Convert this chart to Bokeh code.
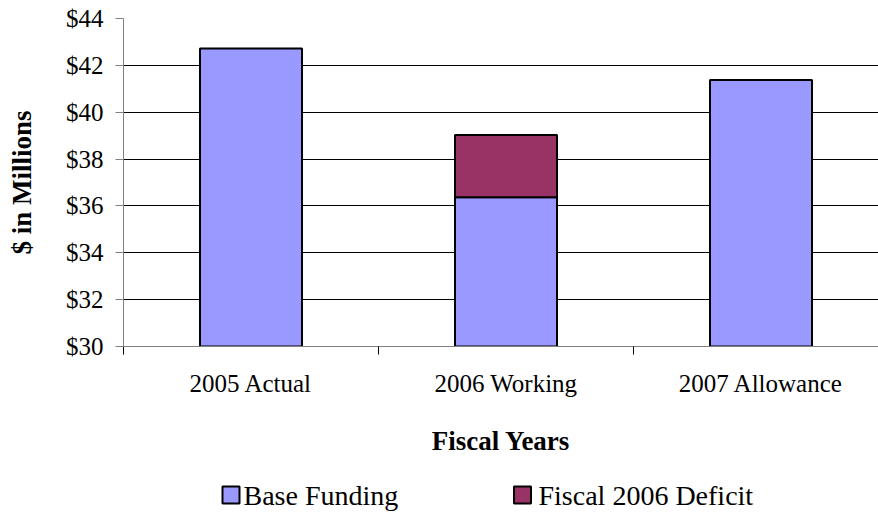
from bokeh.plotting import figure
from bokeh.layouts import column
from bokeh.models import FixedTicker, Range1d, NumeralTickFormatter
from bokeh.core.properties import value
from bokeh.embed import file_html
from bokeh.resources import INLINE

categories = ["2005 Actual", "2006 Working", "2007 Allowance"]
base_funding = [42.72, 36.37, 41.38]
deficit = [0.0, 2.66, 0.0]
y_ticks = [30, 32, 34, 36, 38, 40, 42, 44]
series_names = ["Base Funding", "Fiscal 2006 Deficit"]

FONT = "Liberation Serif"
BLUE = "#9999FF"
PLUM = "#993366"

centers = [i + 0.5 for i in range(len(categories))]
p = figure(width=878, height=466, output_backend="svg", toolbar_location=None,
           x_range=Range1d(0, 755 / 255), y_range=Range1d(30, 44),
           min_border_left=123, min_border_right=0, min_border_top=18, min_border_bottom=120)
p.outline_line_color = None
p.background_fill_color = "white"
p.border_fill_color = "white"

base_bottom = [30] * len(categories)
r_base = p.vbar(x=centers, top=base_funding, bottom=base_bottom, width=0.4,
                fill_color=BLUE, line_color="black", line_width=2)
def_x = [c for c, d in zip(centers, deficit) if d > 0]
def_bottom = [b for b, d in zip(base_funding, deficit) if d > 0]
def_top = [b + d for b, d in zip(base_funding, deficit) if d > 0]
r_def = p.vbar(x=def_x, top=def_top, bottom=def_bottom, width=0.4,
               fill_color=PLUM, line_color="black", line_width=2)

# x axis
xa = p.xaxis[0]
xa.ticker = FixedTicker(ticks=centers, minor_ticks=list(range(len(categories) + 1)))
xa.major_label_overrides = {c: n for c, n in zip(centers, categories)}
xa.major_tick_out = 0
xa.major_tick_in = 0
xa.minor_tick_out = 8
xa.minor_tick_in = 0
xa.minor_tick_line_color = "black"
xa.axis_line_color = "#808080"
xa.major_label_text_font = FONT
xa.major_label_text_font_size = "25px"
xa.major_label_text_color = "black"
xa.major_label_standoff = 15
xa.axis_label = "Fiscal Years"
xa.axis_label_text_font = FONT
xa.axis_label_text_font_style = "bold"
xa.axis_label_text_font_size = "27px"
xa.axis_label_text_color = "black"
xa.axis_label_standoff = 26

# y axis
ya = p.yaxis[0]
ya.ticker = FixedTicker(ticks=y_ticks, minor_ticks=[])
ya.formatter = NumeralTickFormatter(format="$0")
ya.major_tick_out = 8
ya.major_tick_in = 0
ya.major_tick_line_color = "#808080"
ya.axis_line_color = "#808080"
ya.major_label_text_font = FONT
ya.major_label_text_font_size = "25px"
ya.major_label_text_color = "black"
ya.major_label_standoff = 12
ya.axis_label = "$ in Millions"
ya.axis_label_text_font = FONT
ya.axis_label_text_font_style = "bold"
ya.axis_label_text_font_size = "27px"
ya.axis_label_text_color = "black"
ya.axis_label_standoff = 26

p.xgrid.grid_line_color = None
p.ygrid.ticker = FixedTicker(ticks=y_ticks[1:-1])
p.ygrid.grid_line_color = "#000000"
p.ygrid.grid_line_width = 1

# legend strip: frame aligned with the main frame (x from 123 to 878 screen px)
leg = figure(width=878, height=46, output_backend="svg", toolbar_location=None,
             x_range=Range1d(123, 878), y_range=Range1d(0, 46),
             min_border_left=123, min_border_right=0,
             min_border_top=0, min_border_bottom=0)
leg.axis.visible = False
leg.grid.visible = False
leg.outline_line_color = None
leg.background_fill_color = "white"
leg.border_fill_color = "white"

swatch_x = [230.5, 522]
label_x = [243, 538]
leg.rect(x=swatch_x, y=[17.5, 17.5], width=17, height=17,
         fill_color=[BLUE, PLUM], line_color="black", line_width=2)
leg.text(x=label_x, y=[17.5, 17.5], text=series_names, text_font=value(FONT),
         text_font_size="28px", text_color="black", text_baseline="middle",
         text_align="left")

open("out.html", "w").write(file_html(column(p, leg, spacing=0), INLINE))
